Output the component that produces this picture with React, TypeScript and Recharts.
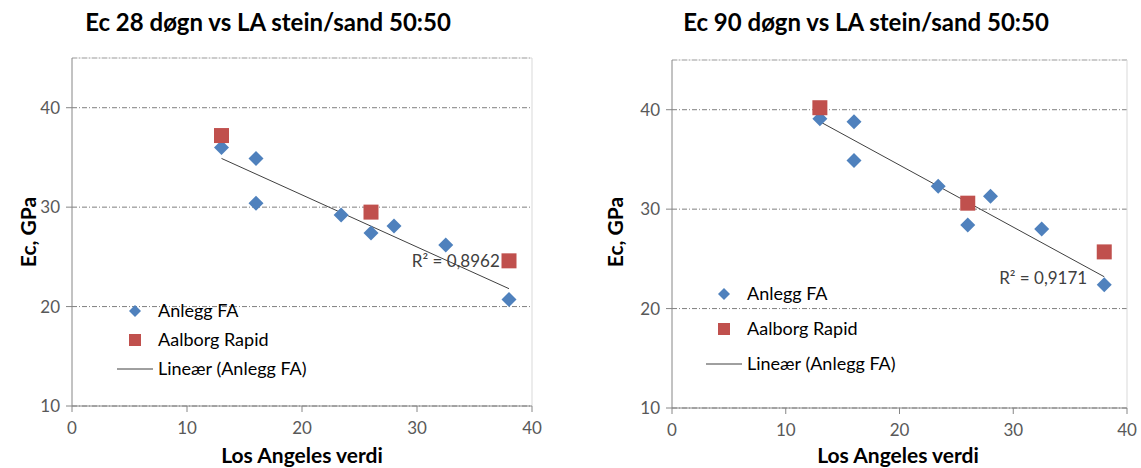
import React from 'react';
import {
  ScatterChart,
  Scatter,
  XAxis,
  YAxis,
  CartesianGrid,
  ReferenceLine,
  ReferenceDot,
  Legend,
} from 'recharts';

// Los Angeles verdi (x) for the two series
const laAnlegg = [13, 16, 16, 23.4, 26, 28, 32.5, 38];
const laAalborg = [13, 26, 38];

// Ec, GPa after 28 days
const ec28Anlegg = [36.0, 34.9, 30.4, 29.2, 27.4, 28.1, 26.2, 20.7];
const ec28Aalborg = [37.2, 29.5, 24.6];

// Ec, GPa after 90 days
const ec90Anlegg = [39.1, 38.8, 34.9, 32.3, 28.4, 31.3, 28.0, 22.4];
const ec90Aalborg = [40.2, 30.6, 25.7];

// linear trend (Anlegg FA), end points
const trendX = [13, 38];
const trend28 = [34.9, 21.8];
const trend90 = [38.8, 23.2];

const xTicks = [0, 10, 20, 30, 40];
const yTicks = [10, 20, 30, 40];

const BLUE = '#4F81BD';
const RED = '#C0504D';
const FONT = 'Lato, "Open Sans", sans-serif';

const toPoints = (xs: number[], ys: number[]) => xs.map((x, i) => ({ x, y: ys[i] }));

const Diamond = (props: any) => {
  const { cx, cy } = props;
  const r = 7.5;
  return <path d={`M${cx},${cy - r}L${cx + r},${cy}L${cx},${cy + r}L${cx - r},${cy}Z`} fill={BLUE} />;
};

const Square = (props: any) => {
  const { cx, cy } = props;
  const s = 15;
  return <rect x={cx - s / 2} y={cy - s / 2} width={s} height={s} fill={RED} />;
};

const LegendBox = ({ gap }: { gap: number }) => {
  const y0 = 15;
  const txt = { fontSize: 18, fill: '#000', fontFamily: FONT };
  return (
    <svg width={260} height={y0 + gap * 2 + 15} style={{ display: 'block', overflow: 'visible' }}>
      <path d={`M25,${y0 - 6}L31,${y0}L25,${y0 + 6}L19,${y0}Z`} fill={BLUE} />
      <text x={48} y={y0} dy="0.35em" {...txt}>Anlegg FA</text>
      <rect x={19} y={y0 + gap - 6} width={12} height={12} fill={RED} />
      <text x={48} y={y0 + gap} dy="0.35em" {...txt}>Aalborg Rapid</text>
      <line x1={7} x2={43} y1={y0 + gap * 2} y2={y0 + gap * 2} stroke="#404040" strokeWidth={1} />
      <text x={48} y={y0 + gap * 2} dy="0.35em" {...txt}>Lineær (Anlegg FA)</text>
    </svg>
  );
};

const R2Text = (props: any) => {
  const { viewBox, value } = props;
  return (
    <text x={viewBox.x} y={viewBox.y} dy="0.35em" textAnchor="end" fill="#404040" fontSize={17} fontFamily={FONT}>
      {value}
    </text>
  );
};

interface EcChartProps {
  left: number;
  width: number;
  title: string;
  titleX: number;
  xLabelX: number;
  yLabelX: number;
  margin: { top: number; right: number; bottom: number; left: number };
  anlegg: { x: number; y: number }[];
  aalborg: { x: number; y: number }[];
  trend: number[];
  r2: string;
  r2At: { x: number; y: number };
  legendPos: { left: number; top: number; gap: number };
}

const EcChart: React.FC<EcChartProps> = (p) => {
  const axisColor = '#868686';
  const tickStyle = { fill: '#595959', fontSize: 17, fontFamily: FONT };
  return (
    <div style={{ position: 'absolute', left: p.left, top: 0, width: p.width, height: 468 }}>
      <div
        style={{
          position: 'absolute', left: p.titleX - 250, top: 6, width: 500, textAlign: 'center',
          fontFamily: FONT, fontWeight: 700, fontSize: 24, color: '#000', lineHeight: '32px',
        }}
      >
        {p.title}
      </div>
      <ScatterChart width={p.width} height={468} margin={p.margin}>
        <CartesianGrid vertical={false} stroke="#7f7f7f" strokeDasharray="5 2 1 2" />
        <ReferenceLine y={45} stroke="#d9d9d9" />
        <ReferenceLine x={40} stroke="#d9d9d9" />
        <XAxis
          type="number"
          dataKey="x"
          domain={[0, 40]}
          ticks={xTicks}
          height={30}
          tickSize={6}
          tickMargin={10}
          stroke={axisColor}
          tick={tickStyle}
        />
        <YAxis
          type="number"
          dataKey="y"
          domain={[10, 45]}
          ticks={yTicks}
          width={40}
          tickSize={6}
          tickMargin={6}
          stroke={axisColor}
          tick={tickStyle}
        />
        <ReferenceLine
          segment={[
            { x: trendX[0], y: p.trend[0] },
            { x: trendX[1], y: p.trend[1] },
          ]}
          stroke="#404040"
          strokeWidth={1}
        />
        <Scatter name="Anlegg FA" data={p.anlegg} shape={Diamond} isAnimationActive={false} />
        <Scatter name="Aalborg Rapid" data={p.aalborg} shape={Square} isAnimationActive={false} />
        <ReferenceDot
          x={p.r2At.x}
          y={p.r2At.y}
          r={0}
          stroke="none"
          fill="none"
          label={<R2Text value={p.r2} />}
        />
        <Legend
          layout="vertical"
          align="center"
          verticalAlign="middle"
          content={() => <LegendBox gap={p.legendPos.gap} />}
          wrapperStyle={{ left: p.legendPos.left, top: p.legendPos.top, width: 260 }}
        />
      </ScatterChart>
      <div
        style={{
          position: 'absolute', left: p.xLabelX - 150, top: 443, width: 300, textAlign: 'center',
          fontFamily: FONT, fontWeight: 700, fontSize: 21, color: '#000', lineHeight: '24px',
        }}
      >
        Los Angeles verdi
      </div>
      <div
        style={{
          position: 'absolute', left: p.yLabelX - 100, top: 220, width: 200, textAlign: 'center',
          transform: 'rotate(-90deg)', fontFamily: FONT, fontWeight: 700, fontSize: 21, color: '#000',
          lineHeight: '24px',
        }}
      >
        Ec, GPa
      </div>
    </div>
  );
};

export default function App() {
  return (
    <div style={{ position: 'absolute', left: 0, top: 0, width: 1141, height: 468, background: '#fff', overflow: 'hidden' }}>
      <EcChart
        left={0}
        width={560}
        title="Ec 28 døgn vs LA stein/sand 50:50"
        titleX={268}
        xLabelX={302}
        yLabelX={28}
        margin={{ top: 58, right: 28, bottom: 32, left: 32 }}
        anlegg={toPoints(laAnlegg, ec28Anlegg)}
        aalborg={toPoints(laAalborg, ec28Aalborg)}
        trend={trend28}
        r2="R² = 0,8962"
        r2At={{ x: 37.2, y: 24.6 }}
        legendPos={{ left: 110, top: 296, gap: 29 }}
      />
      <EcChart
        left={580}
        width={561}
        title="Ec 90 døgn vs LA stein/sand 50:50"
        titleX={286}
        xLabelX={318}
        yLabelX={35}
        margin={{ top: 60, right: 14, bottom: 30, left: 52 }}
        anlegg={toPoints(laAnlegg, ec90Anlegg)}
        aalborg={toPoints(laAalborg, ec90Aalborg)}
        trend={trend90}
        r2="R² = 0,9171"
        r2At={{ x: 36.5, y: 23.1 }}
        legendPos={{ left: 119, top: 279, gap: 35 }}
      />
    </div>
  );
}
